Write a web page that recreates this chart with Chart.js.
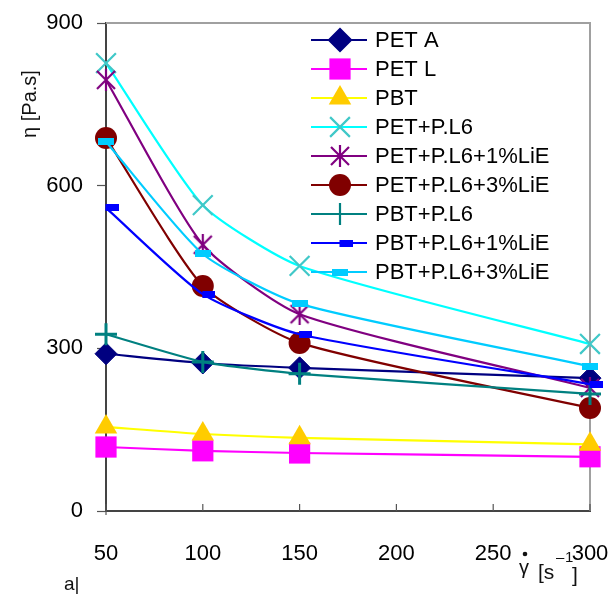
<!DOCTYPE html>
<html>
<head>
<meta charset="utf-8">
<script src="https://cdn.jsdelivr.net/npm/chart.js@4.4.1/dist/chart.umd.min.js"></script>
<style>
  html, body { margin: 0; padding: 0; background: #fff; }
  canvas { display: block; }
</style>
</head>
<body>
<canvas id="viscChart" width="611" height="594"></canvas>
<script>
// shear rate points (x) and viscosity values (y)
const shearRates = [50, 100, 150, 300];
const seriesNames = ["PET A", "PET L", "PBT", "PET+P.L6", "PET+P.L6+1%LiE",
  "PET+P.L6+3%LiE", "PBT+P.L6", "PBT+P.L6+1%LiE", "PBT+P.L6+3%LiE"];
const petA = [290, 273, 264, 245];
const petL = [118, 111, 107, 100];
const pbt = [155, 142, 135, 123];
const petPL6 = [826, 564, 452, 308];
const petPL6Li1 = [795, 491, 363, 227];
const petPL6Li3 = [688, 415, 310, 190];
const pbtPL6 = [326, 275, 253, 216];
const pbtPL6Li1 = [559, 400, 326, 234];
const pbtPL6Li3 = [681, 474, 382, 267];
const xTicks = [50, 100, 150, 200, 250, 300];
const yTicks = [0, 300, 600, 900];

const FONT = "'Liberation Sans', Arial, sans-serif";

// small marker glyphs that chart.js doesn't have
function makeAsterisk(color) {
  const c = document.createElement("canvas");
  c.width = 22; c.height = 22;
  const g = c.getContext("2d");
  g.strokeStyle = color; g.lineWidth = 2.2;
  g.beginPath();
  g.moveTo(2, 2); g.lineTo(20, 20);
  g.moveTo(20, 2); g.lineTo(2, 20);
  g.moveTo(11, 0); g.lineTo(11, 22);
  g.stroke();
  return c;
}
function makeDash(color, w, h, shift) {
  const c = document.createElement("canvas");
  c.width = w + 2 * Math.abs(shift); c.height = h;
  const g = c.getContext("2d");
  g.fillStyle = color;
  g.fillRect(Math.abs(shift) + shift, 0, w, h);
  return c;
}

const styles = [
  { line: "#000080", fill: "#000080", stroke: "#000080", style: "rectRot", r: 11, bw: 1 },
  { line: "#ff00ff", fill: "#ff00ff", stroke: "#ff00ff", style: "rect", r: 15, bw: 0 },
  { line: "#ffff00", fill: "#ffcc00", stroke: "#ffcc00", style: "triangle", r: 13, bw: 0 },
  { line: "#00ffff", fill: "#40c8c8", stroke: "#40c8c8", style: "crossRot", r: 14, bw: 2.2 },
  { line: "#800080", fill: "#800080", stroke: "#800080", style: makeAsterisk("#800080"), r: 11, bw: 0 },
  { line: "#800000", fill: "#800000", stroke: "#800000", style: "circle", r: 11, bw: 0 },
  { line: "#008080", fill: "#008080", stroke: "#008080", style: "cross", r: 11, bw: 3 },
  { line: "#0000ff", fill: "#0000ff", stroke: "#0000ff", style: makeDash("#0000ff", 13, 7, 6), r: 8, bw: 0 },
  { line: "#00ccff", fill: "#00ccff", stroke: "#00ccff", style: makeDash("#00ccff", 16, 7, 0), r: 8, bw: 0 }
];
const allValues = [petA, petL, pbt, petPL6, petPL6Li1, petPL6Li3, pbtPL6, pbtPL6Li1, pbtPL6Li3];

const datasets = allValues.map((vals, i) => ({
  label: seriesNames[i],
  data: shearRates.map((x, j) => ({ x: x, y: vals[j] })),
  borderColor: styles[i].line,
  backgroundColor: styles[i].fill,
  pointBackgroundColor: styles[i].fill,
  pointBorderColor: styles[i].stroke,
  pointStyle: styles[i].style,
  pointRadius: styles[i].r,
  pointBorderWidth: styles[i].bw,
  borderWidth: 2.2,
  tension: 0.2,
  clip: false,
  order: allValues.length - i
}));

// frame, inner x ticks, legend and axis titles
const extras = {
  id: "extras",
  beforeDatasetsDraw(chart) {
    const { ctx, chartArea: a } = chart;
    ctx.save();
    ctx.strokeStyle = "#a0a0a0";
    ctx.lineWidth = 2;
    ctx.beginPath();
    ctx.moveTo(a.left, a.top); ctx.lineTo(a.right, a.top); ctx.lineTo(a.right, a.bottom);
    ctx.stroke();
    const xs = chart.scales.x;
    ctx.strokeStyle = "#555";
    ctx.lineWidth = 1.2;
    xTicks.forEach(t => {
      const px = xs.getPixelForValue(t);
      ctx.beginPath();
      ctx.moveTo(px, a.bottom - 7);
      ctx.lineTo(px, a.bottom + (t === 50 ? 4 : 0));
      ctx.stroke();
    });
    ctx.restore();
  },
  afterDatasetsDraw(chart) {
    const { ctx } = chart;
    ctx.save();
    // legend (no background, lines show through)
    ctx.font = "22px " + FONT;
    ctx.textBaseline = "middle";
    seriesNames.forEach((name, i) => {
      const y = 40 + i * 29;
      const s = styles[i];
      ctx.strokeStyle = s.line;
      ctx.lineWidth = 2.2;
      ctx.beginPath();
      ctx.moveTo(311, y); ctx.lineTo(367, y);
      ctx.stroke();
      ctx.fillStyle = s.fill;
      ctx.strokeStyle = s.stroke;
      Chart.helpers.drawPoint(ctx, { pointStyle: s.style, radius: s.r, rotation: 0, borderWidth: s.bw }, 340, y);
      ctx.fillStyle = "#000";
      ctx.fillText(name, 375, y + 1);
    });
    // y title
    ctx.fillStyle = "#111";
    ctx.save();
    ctx.translate(30, 104);
    ctx.rotate(-Math.PI / 2);
    ctx.textAlign = "center";
    ctx.textBaseline = "middle";
    ctx.font = "20px " + FONT;
    ctx.fillText("\u03b7 [Pa.s]", 0, 0);
    ctx.restore();
    // x title
    ctx.textBaseline = "alphabetic";
    ctx.textAlign = "left";
    ctx.font = "20px " + FONT;
    ctx.fillText("\u03b3", 519, 574);
    ctx.beginPath();
    ctx.arc(525, 554, 2.3, 0, Math.PI * 2);
    ctx.fill();
    ctx.font = "21px " + FONT;
    ctx.fillText("[s", 538, 579);
    ctx.font = "15px " + FONT;
    ctx.fillText("\u2013", 556, 562);
    ctx.fillText("1", 565, 562);
    ctx.font = "21px " + FONT;
    ctx.fillText("]", 572, 582);
    ctx.font = "19px " + FONT;
    ctx.fillText("a|", 64, 590);
    ctx.restore();
  }
};

new Chart(document.getElementById("viscChart").getContext("2d"), {
  type: "line",
  data: { datasets: datasets },
  options: {
    responsive: false,
    animation: false,
    devicePixelRatio: 1,
    layout: { padding: { top: 23, right: 21, left: 0, bottom: 0 } },
    plugins: { legend: { display: false }, tooltip: { enabled: false } },
    scales: {
      x: {
        type: "linear",
        min: 50, max: 300,
        afterBuildTicks: s => { s.ticks = xTicks.map(v => ({ value: v })); },
        afterFit: s => { s.height = 83; s.paddingLeft = 0; s.paddingRight = 0; },
        ticks: { color: "#000", padding: 30, maxRotation: 0, font: { family: FONT, size: 22 } },
        grid: { drawOnChartArea: false, drawTicks: false },
        border: { color: "#444", width: 2 }
      },
      y: {
        min: 0, max: 900,
        afterBuildTicks: s => { s.ticks = yTicks.map(v => ({ value: v })); },
        afterFit: s => { s.width = 106; s.paddingTop = 0; s.paddingBottom = 0; },
        ticks: { color: "#000", padding: 14, font: { family: FONT, size: 22 } },
        grid: { drawOnChartArea: false, tickLength: 9, tickColor: "#555", tickWidth: 1.2 },
        border: { color: "#444", width: 2 }
      }
    }
  },
  plugins: [extras]
});
</script>
</body>
</html>
